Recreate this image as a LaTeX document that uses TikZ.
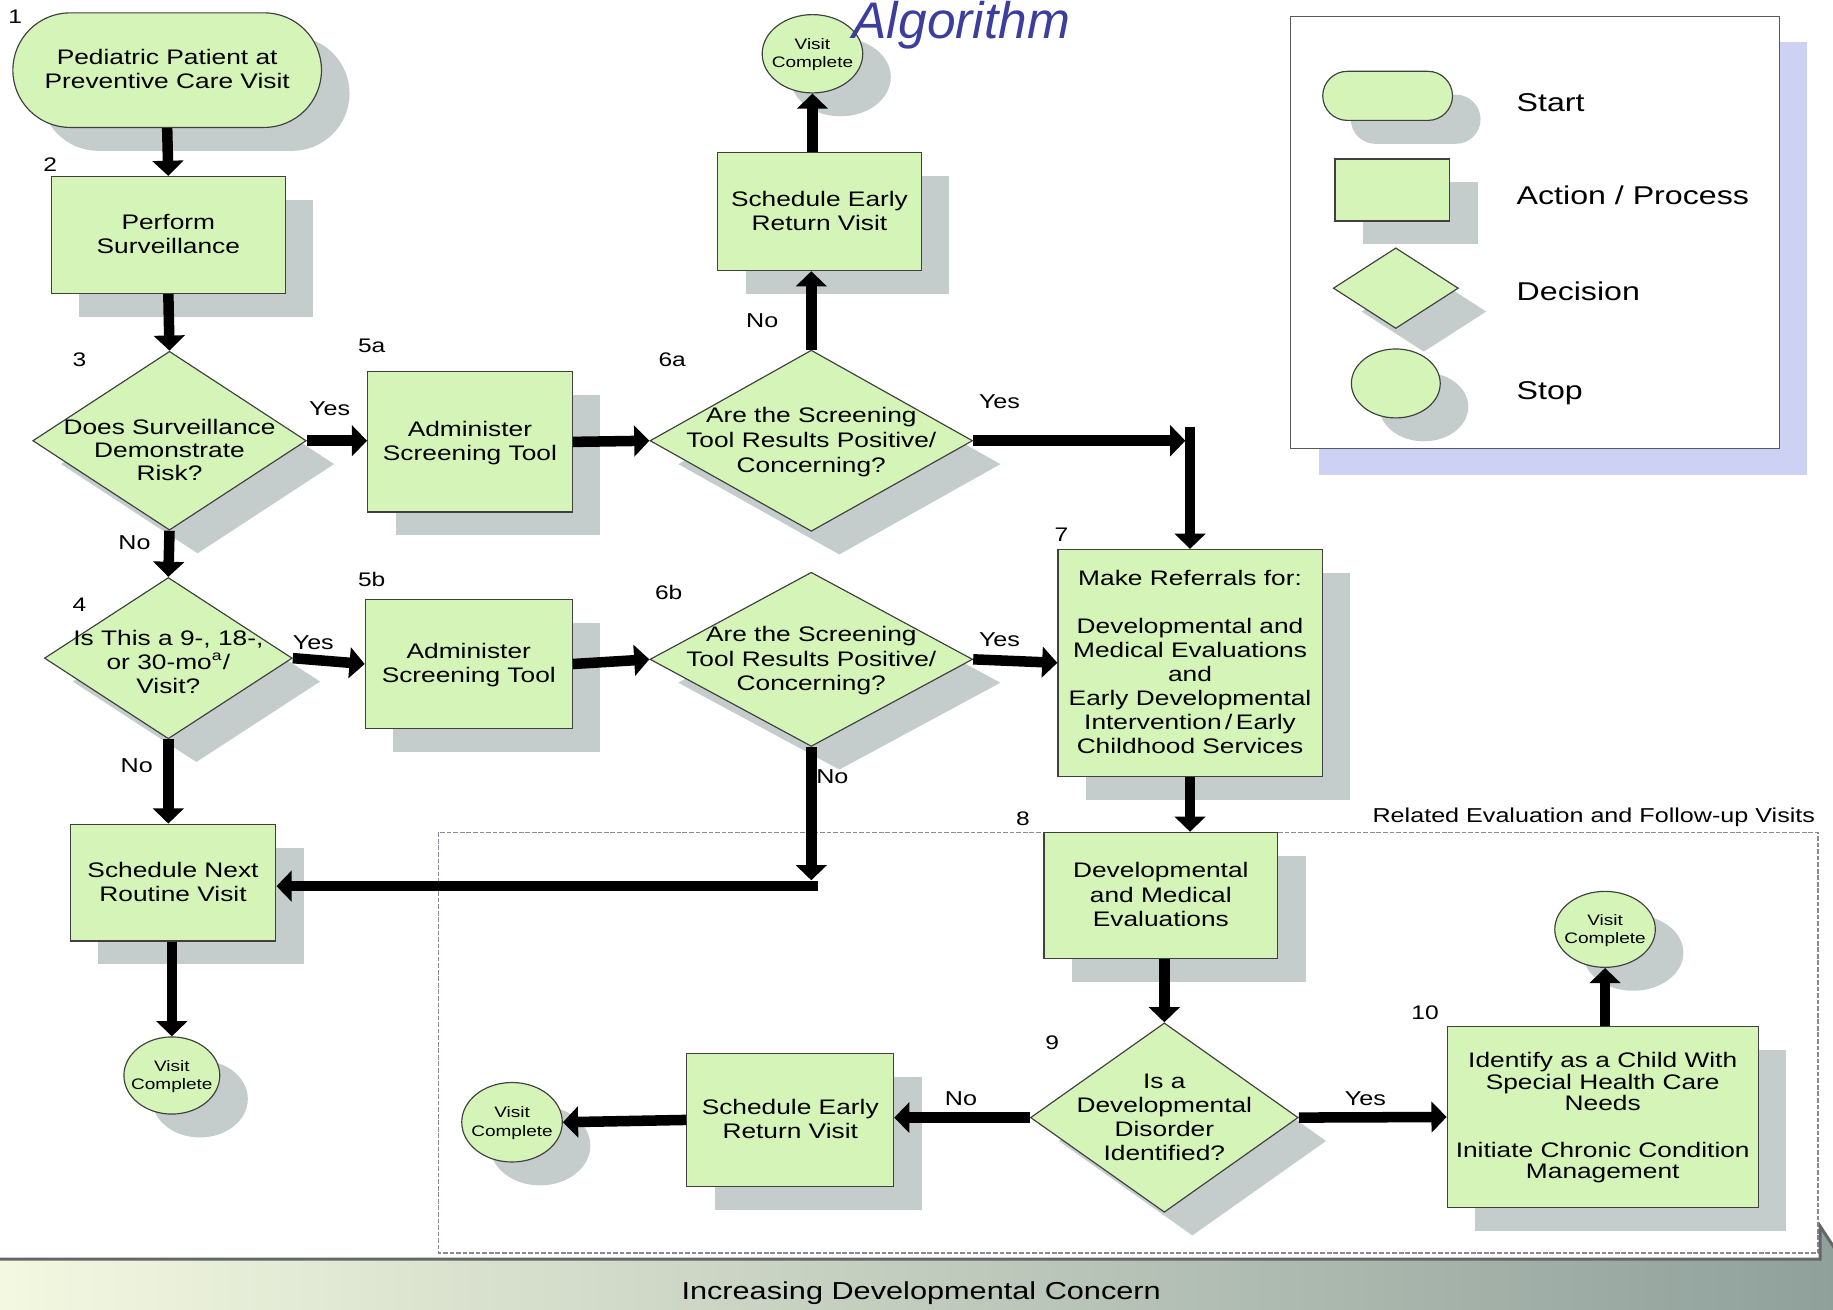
\documentclass[tikz,border=0pt]{standalone}
\usepackage{fontspec}
\setmainfont{Liberation Sans}[FakeStretch=1.25]
\newfontfamily\titlefont{Liberation Sans}
\usetikzlibrary{shapes.geometric,shadows,arrows.meta}
\definecolor{nodegreen}{HTML}{D5F5B8}
\definecolor{shadowgray}{HTML}{C4CCCC}
\definecolor{legshadow}{HTML}{CDD1F3}
\definecolor{titleblue}{HTML}{3B3E9C}
\definecolor{bannerL}{HTML}{F3F8E0}
\definecolor{bannerM}{HTML}{CBD5C2}
\definecolor{bannerR}{HTML}{8C9D99}
\definecolor{dashgray}{HTML}{8A8A96}
\newcommand{\ztx}[4]{\makebox[0pt]{\smash{\raisebox{\dimexpr -#3\relax}{\fontsize{#1}{#2}\selectfont\begin{tabular}{@{}c@{}}#4\end{tabular}}}}}
\newcommand{\zt}[1]{\ztx{9}{10.3}{3pt}{#1}}
\tikzset{
  sh/.style={drop shadow={shadow xshift=12pt,shadow yshift=-10pt,fill=shadowgray,opacity=1}},
  basenode/.style={draw=black!75,line width=0.5pt,fill=nodegreen,inner sep=0pt,sh},
  procbox/.style={basenode,rectangle},
  startbox/.style={basenode,rectangle},
  decision/.style={basenode,diamond},
  stopcirc/.style={basenode,ellipse},
  arr/.style={line width=4.5pt,-{Triangle[width=13pt,length=6.5pt]}},
  numlbl/.style={font=\fontsize{8.4}{10}\selectfont,inner sep=0pt},
  yn/.style={font=\fontsize{8.6}{10}\selectfont,inner sep=0pt},
  legtext/.style={font=\fontsize{11}{13}\selectfont,inner sep=0pt,anchor=west},
}
\begin{document}
\begin{tikzpicture}[x=0.5pt,y=-0.5pt]
\useasboundingbox (0,0) rectangle (1568,1120);
\clip (0,0) rectangle (1568,1120);

% legend
\node[draw=black!65,line width=0.5pt,fill=white,minimum width=209pt,minimum height=185pt,inner sep=0pt,
  drop shadow={shadow xshift=12pt,shadow yshift=-11pt,fill=legshadow,opacity=1}] (legend) at (1313,199) {};
\node[startbox,minimum width=55.5pt,minimum height=21pt,rounded corners=10.5pt] (L1) at (1187,82) {};
\node[procbox,minimum width=49pt,minimum height=26.5pt] (L2) at (1191,162.5) {};
\node[decision,minimum width=53.5pt,minimum height=34.5pt] (L3) at (1194,246.5) {};
\node[stopcirc,minimum width=38pt,minimum height=29.5pt] (L4) at (1194,328) {};
\node[legtext] (T1) at (1297,88) {Start};
\node[legtext] (T2) at (1297,167) {Action / Process};
\node[legtext] (T3) at (1297,249) {Decision};
\node[legtext] (T4) at (1297,336) {Stop};

% related region
\draw[dashgray,line width=0.6pt,dash pattern=on 2pt off 0.8pt] (375,712) rectangle (1555,1072);
\node[anchor=east,inner sep=0pt,font=\fontsize{8.6}{10}\selectfont] (reltext) at (1553,699) {Related Evaluation and Follow-up Visits};

% banner
\fill[left color=bannerL,middle color=bannerM,right color=bannerR] (0,1077) -- (1557,1077) -- (1557,1049) -- (1620,1145) -- (0,1145) -- cycle;
\draw[line width=1.3pt,black!60] (0,1077) -- (1557,1077) -- (1557,1049) -- (1620,1145);
\node[inner sep=0pt,font=\fontsize{10.5}{12}\selectfont] (banner) at (788,1106) {Increasing Developmental Concern};

% nodes
\node[startbox,minimum width=132pt,minimum height=49pt,rounded corners=24.5pt] (N1) at (143,60) {\zt{Pediatric Patient at\\Preventive Care Visit}};
\node[procbox,minimum width=100pt,minimum height=50pt] (N2) at (144,201) {\zt{Perform\\Surveillance}};
\node[decision,minimum width=117pt,minimum height=76.5pt] (N3) at (145,377) {\ztx{9}{9.8}{7.5pt}{Does Surveillance\\Demonstrate\\Risk?}};
\node[decision,minimum width=106pt,minimum height=69pt] (N4) at (144,563) {\ztx{9}{10.3}{5pt}{Is This a 9-, 18-,\\or 30-mo\textsuperscript{a}/\\Visit?}};
\node[procbox,minimum width=87.5pt,minimum height=60pt] (N5a) at (402,378) {\zt{Administer\\Screening Tool}};
\node[procbox,minimum width=88.5pt,minimum height=55pt] (N5b) at (401,568) {\zt{Administer\\Screening Tool}};
\node[decision,minimum width=138pt,minimum height=77.5pt] (N6a) at (694,377) {\ztx{9}{10.6}{3pt}{Are the Screening\\Tool Results Positive/\\Concerning?}};
\node[decision,minimum width=138pt,minimum height=74.5pt] (N6b) at (694,564) {\ztx{9}{10.6}{3pt}{Are the Screening\\Tool Results Positive/\\Concerning?}};
\node[procbox,minimum width=87pt,minimum height=50.5pt] (Nser1) at (701,181) {\zt{Schedule Early\\Return Visit}};
\node[stopcirc,minimum width=43pt,minimum height=33.5pt] (C2) at (695,46) {\ztx{6.5}{7.8}{2pt}{Visit\\Complete}};
\node[procbox,minimum width=113pt,minimum height=97pt] (N7) at (1018,567) {\zt{Make Referrals for:\\ \\Developmental and\\Medical Evaluations\\and\\Early Developmental\\Intervention\,/\,Early\\Childhood Services}};
\node[procbox,minimum width=88pt,minimum height=50pt] (N11) at (148,755) {\zt{Schedule Next\\Routine Visit}};
\node[stopcirc,minimum width=41pt,minimum height=33pt] (C1) at (147,920) {\ztx{6.5}{7.8}{2pt}{Visit\\Complete}};
\node[procbox,minimum width=100pt,minimum height=54pt] (N8) at (993,766) {\zt{Developmental\\and Medical\\Evaluations}};
\node[decision,minimum width=114.5pt,minimum height=81pt] (N9) at (996,956) {\zt{Is a\\Developmental\\Disorder\\Identified?}};
\node[procbox,minimum width=88.5pt,minimum height=57pt] (Nser2) at (676,958) {\zt{Schedule Early\\Return Visit}};
\node[stopcirc,minimum width=43pt,minimum height=34pt] (C3) at (438,960) {\ztx{6.5}{7.8}{2pt}{Visit\\Complete}};
\node[procbox,minimum width=133pt,minimum height=77.5pt] (N10) at (1371,955.5) {\ztx{9}{9}{3pt}{Identify as a Child With\\Special Health Care\\Needs\\[2pt] \\Initiate Chronic Condition\\Management}};
\node[stopcirc,minimum width=43pt,minimum height=32.5pt] (C4) at (1373,795) {\ztx{6.5}{7.8}{2pt}{Visit\\Complete}};

% number labels
\node[numlbl] (n1) at (13,14) {1};
\node[numlbl] (n2) at (43,141) {2};
\node[numlbl] (n3) at (68,308) {3};
\node[numlbl] (n4) at (68,517) {4};
\node[numlbl] (n5a) at (318,296) {5a};
\node[numlbl] (n5b) at (318,496) {5b};
\node[numlbl] (n6a) at (575,308) {6a};
\node[numlbl] (n6b) at (572,507) {6b};
\node[numlbl] (n7) at (908,457) {7};
\node[numlbl] (n8) at (875,700) {8};
\node[numlbl] (n9) at (900,892) {9};
\node[numlbl] (n10) at (1219,866) {10};

% connectors
\coordinate (J1) at (1018,365);
\coordinate (J2) at (1014,377);
\coordinate (J3) at (694,753);
\coordinate (J4) at (700,758);
\draw[arr] (N1.south) -- (N2.north);
\draw[arr] (N2.south) -- (N3.north);
\draw[arr] (N3.east) -- (N5a.west |- N3.east);
\draw[arr] (N5a.east) -- (N6a.west);
\draw[arr] (N3.south) -- (N4.north);
\draw[arr] (N4.east) -- (N5b.west);
\draw[arr] (N5b.east) -- (N6b.west);
\draw[arr] (N6b.east) -- (N7.west);
\draw[arr] (N6a.north) -- (N6a.north |- Nser1.south);
\draw[arr] (C2.south |- Nser1.north) -- (C2.south);
\draw[arr] (N6a.east) -- (J2);
\draw[arr] (J1) -- (J1 |- N7.north);
\draw[arr] (N4.south) -- (N4.south |- N11.north);
\draw[arr] (C1.north |- N11.south) -- (C1.north);
\draw[arr] (N6b.south) -- (J3);
\draw[arr] (J4) -- (J4 -| N11.east);
\draw[arr] (N7.south) -- (N7.south |- N8.north);
\draw[arr] (N9.north |- N8.south) -- (N9.north);
\draw[arr] (N9.west) -- (Nser2.east |- N9.west);
\draw[arr] (Nser2.west) -- (C3.east);
\draw[arr] (N9.east) -- (N10.west);
\draw[arr] (C4.south |- N10.north) -- (C4.south);

% yes / no
\node[yn] (y3) at (282,350) {Yes};
\node[yn] (o3) at (115,464) {No};
\node[yn] (y4) at (268,550) {Yes};
\node[yn] (o4) at (117,655) {No};
\node[yn] (o6a) at (652,274) {No};
\node[yn] (y6a) at (855,344) {Yes};
\node[yn] (y6b) at (855,547) {Yes};
\node[yn] (o6b) at (712,664) {No};
\node[yn] (o9) at (822,940) {No};
\node[yn] (y9) at (1168,940) {Yes};

% title
\node[anchor=base west,inner sep=0pt,text=titleblue,font=\titlefont\itshape\fontsize{22}{24}\selectfont] (title) at (729,33) {Algorithm};
\end{tikzpicture}
\end{document}
